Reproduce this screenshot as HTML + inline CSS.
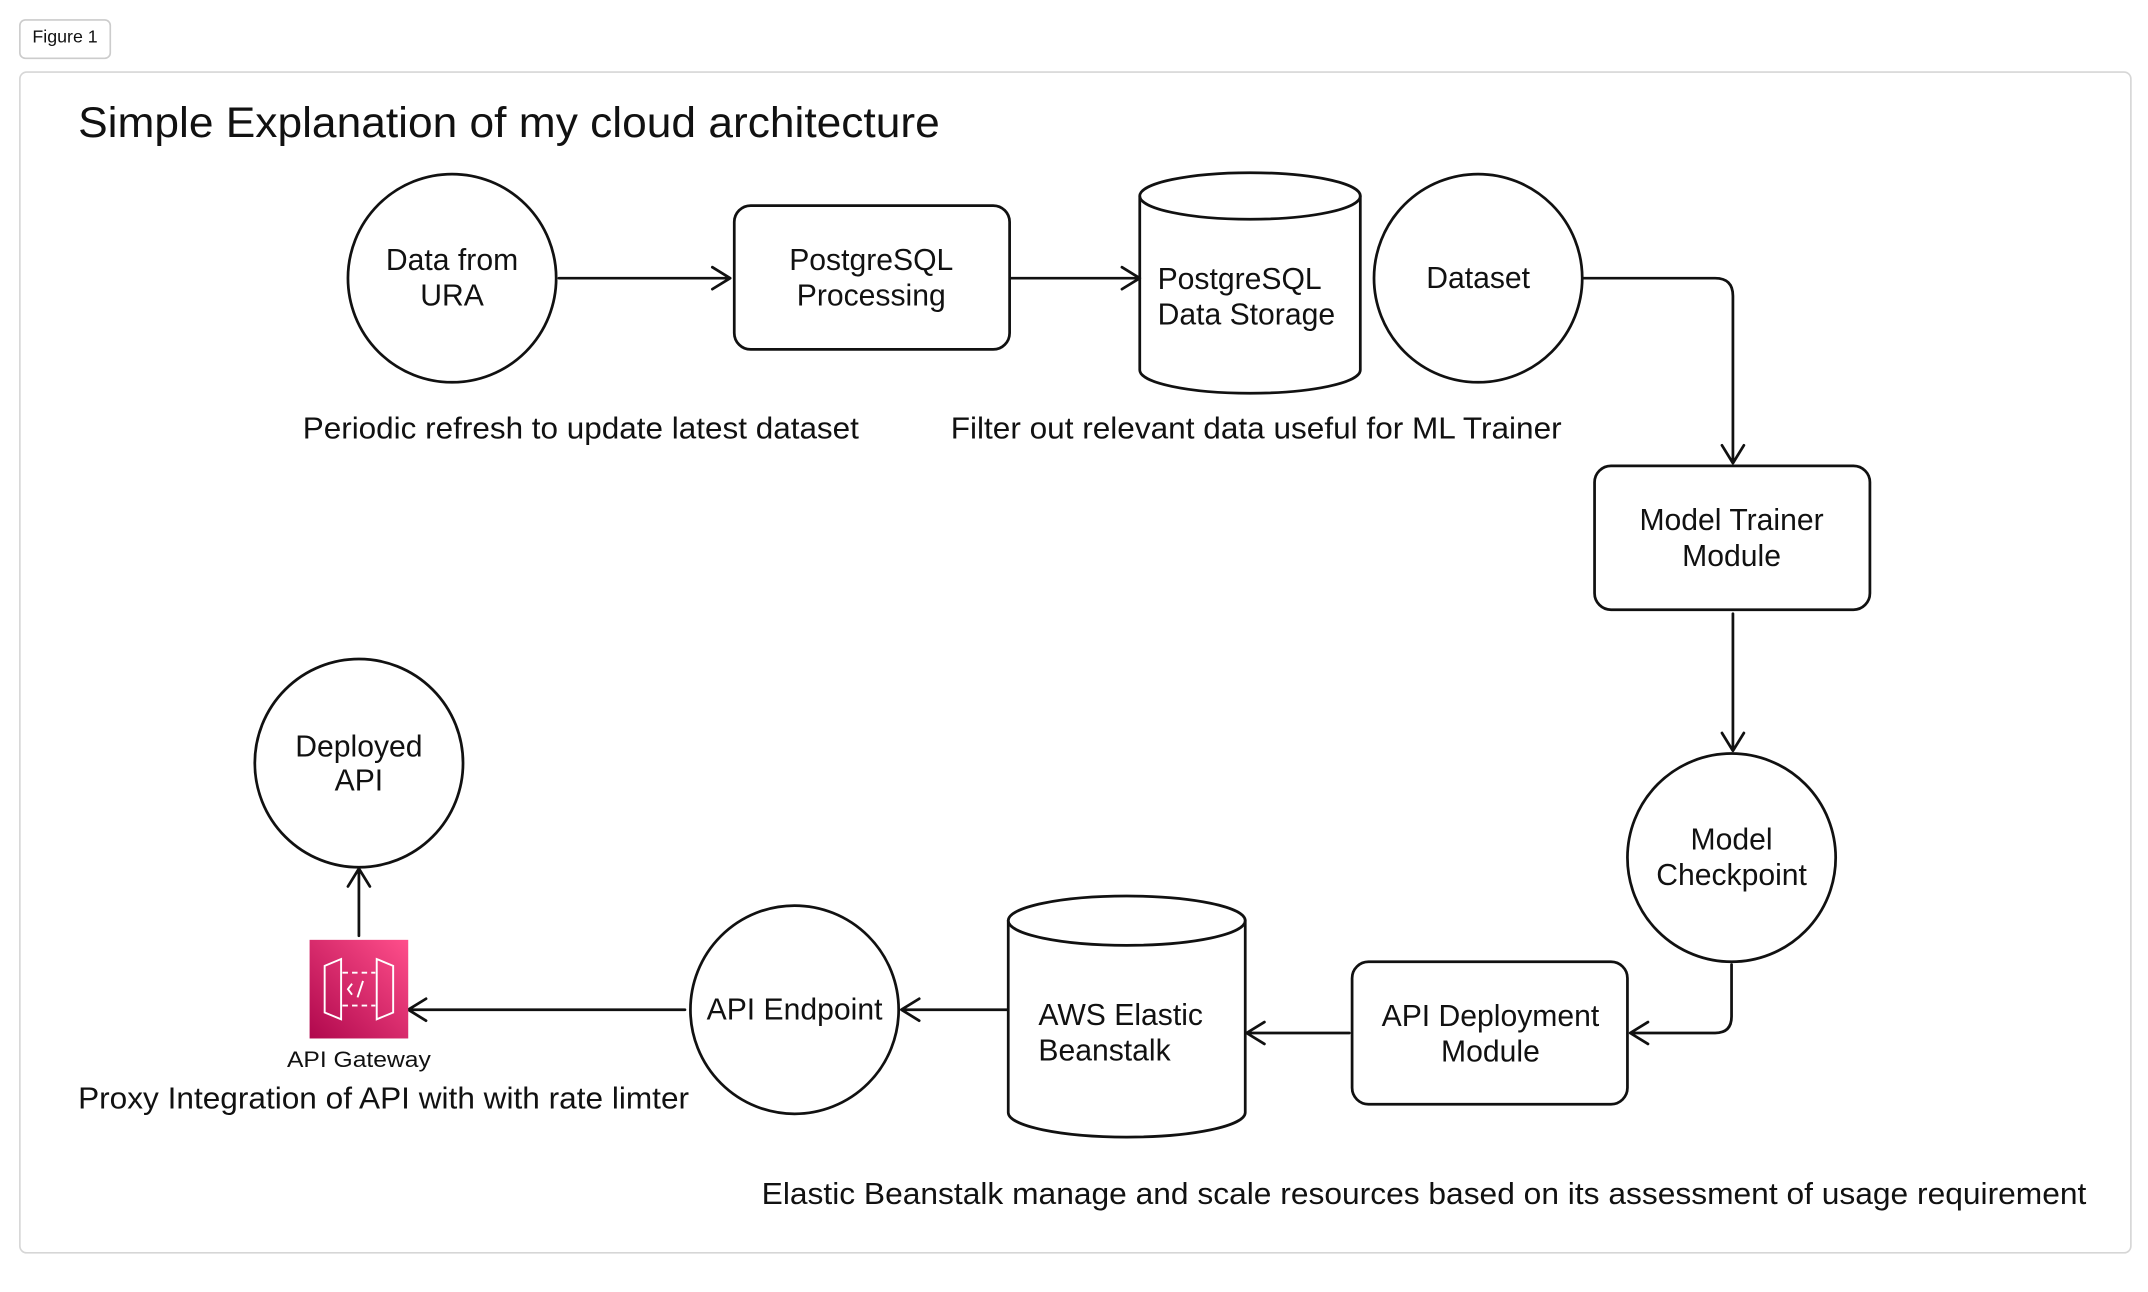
<!DOCTYPE html>
<html><head><meta charset="utf-8"><style>
html,body{margin:0;padding:0;background:#fff;}
svg{display:block;}
text{font-family:"Liberation Sans",sans-serif;fill:#111;}
</style></head><body>
<svg width="2148" height="1292" viewBox="0 0 1568 943" xmlns="http://www.w3.org/2000/svg">
<defs>
<linearGradient id="g" x1="0" y1="1" x2="1" y2="0">
<stop offset="0" stop-color="#b0084d"/><stop offset="1" stop-color="#ff4f8b"/>
</linearGradient>
</defs>
<rect x="14.5" y="14.5" width="66" height="28" rx="4" fill="#fff" stroke="#ccc" stroke-width="1.2"/>
<text x="47.5" y="31" font-size="13" text-anchor="middle">Figure 1</text>
<rect x="14.5" y="52.5" width="1541" height="862" rx="5" fill="#fff" stroke="#d6d6d6" stroke-width="1.2"/>
<text x="57" y="100" font-size="31" textLength="629" lengthAdjust="spacingAndGlyphs">Simple Explanation of my cloud architecture</text>

<g fill="none" stroke="#111" stroke-width="2" stroke-linecap="round" stroke-linejoin="round">
<circle cx="330" cy="203" r="76"/>
<rect x="536" y="150" width="201" height="105" rx="12"/>
<path d="M832 143 V270 A80.5 17 0 0 0 993 270 V143"/>
<ellipse cx="912.5" cy="143" rx="80.5" ry="17"/>
<circle cx="1079" cy="203" r="76"/>
<rect x="1164" y="340" width="201" height="105" rx="12"/>
<circle cx="1264" cy="626" r="76"/>
<rect x="987" y="702" width="201" height="104" rx="12"/>
<path d="M736 672 V812 A86.5 18 0 0 0 909 812 V672"/>
<ellipse cx="822.5" cy="672" rx="86.5" ry="18"/>
<circle cx="580" cy="737" r="76"/>
<circle cx="262" cy="557" r="76"/>

<path d="M408 203 H532 M520 195 L533 203 L520 211"/>
<path d="M738 203 H831 M819 195 L832 203 L819 211"/>
<path d="M1156 203 H1252 Q1265 203 1265 216 V337 M1257 325 L1265 338 L1273 325"/>
<path d="M1265 448 V547 M1257 535 L1265 548 L1273 535"/>
<path d="M1264 704 V742 Q1264 754 1252 754 H1190 M1203 746 L1190 754 L1203 762"/>
<path d="M985 754 H911 M923 746 L910 754 L923 762"/>
<path d="M735 737 H659 M671 729 L658 737 L671 745"/>
<path d="M500 737 H299 M311 729 L298 737 L311 745"/>
<path d="M262 683 V635 M254 647 L262 634 L270 647"/>
</g>

<rect x="226" y="686" width="72" height="72" fill="url(#g)"/>
<g fill="none" stroke="#fff" stroke-width="1.4">
<path d="M237 705 L249 700 V744 L237 739 Z"/>
<path d="M287 705 L275 700 V744 L287 739 Z"/>
<path d="M250 710 H274 M250 734 H274" stroke-dasharray="4 3"/>
<path d="M257 718 L254 722 L257 726 M265 716 L261 728"/>
</g>
<text x="262" y="779" font-size="16" text-anchor="middle" textLength="105" lengthAdjust="spacingAndGlyphs">API Gateway</text>

<g font-size="22" text-anchor="middle">
<text x="330" y="197">Data from</text><text x="330" y="223">URA</text>
<text x="636" y="197">PostgreSQL</text><text x="636" y="223">Processing</text>
<text x="1079" y="210">Dataset</text>
<text x="1264" y="387">Model Trainer</text><text x="1264" y="413">Module</text>
<text x="1264" y="620">Model</text><text x="1264" y="646">Checkpoint</text>
<text x="1088" y="749">API Deployment</text><text x="1088" y="775">Module</text>
<text x="580" y="744">API Endpoint</text>
<text x="262" y="552">Deployed</text><text x="262" y="577">API</text>
</g>
<g font-size="22">
<text x="845" y="211">PostgreSQL</text><text x="845" y="237">Data Storage</text>
<text x="758" y="748">AWS Elastic</text><text x="758" y="774">Beanstalk</text>
<text x="221" y="320" textLength="406" lengthAdjust="spacingAndGlyphs">Periodic refresh to update latest dataset</text>
<text x="694" y="320" textLength="446" lengthAdjust="spacingAndGlyphs">Filter out relevant data useful for ML Trainer</text>
<text x="57" y="809" textLength="446" lengthAdjust="spacingAndGlyphs">Proxy Integration of API with with rate limter</text>
<text x="556" y="879" textLength="967" lengthAdjust="spacingAndGlyphs">Elastic Beanstalk manage and scale resources based on its assessment of usage requirement</text>
</g>
</svg>
</body></html>
